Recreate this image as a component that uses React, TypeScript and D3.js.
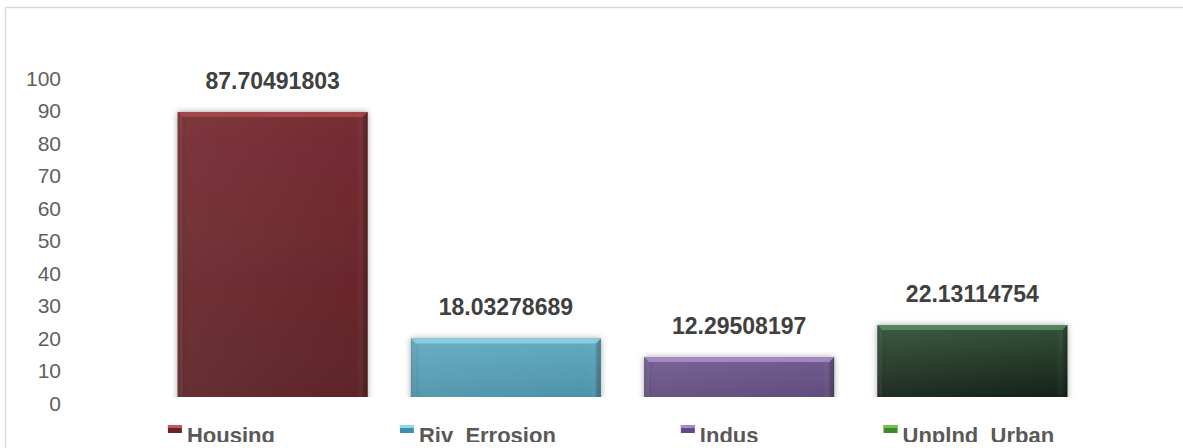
import React, { useEffect, useRef } from "react";
import * as d3 from "d3";

const categories = ["Housing", "Riv_Errosion", "Indus", "Unplnd_Urban"];
const values = [87.70491803, 18.03278689, 12.29508197, 22.13114754];
const valueLabels = ["87.70491803", "18.03278689", "12.29508197", "22.13114754"];
const yTicks = [0, 10, 20, 30, 40, 50, 60, 70, 80, 90, 100];
const barTop = ["#a9484f", "#8fd3e6", "#a890cc", "#5c8e62"];
const barLight = ["#772d32", "#62abc2", "#725c90", "#33523a"];
const barDark = ["#5e2428", "#4a8fa4", "#5d4978", "#121b13"];
const legendMain = ["#6e2227", "#3f8eaa", "#5e4a86", "#3f8a26"];
const legendHi = ["#c0585c", "#8fd6ea", "#a58ad0", "#70c24c"];

export default function App() {
  const ref = useRef<SVGSVGElement>(null);
  useEffect(() => {
    const svg = d3.select(ref.current);
    svg.selectAll("*").remove();
    const font = "'Liberation Sans', Arial, sans-serif";

    const x = d3.scaleBand<string>().domain(categories).range([156, 1089]).paddingInner(0.185).paddingOuter(0.0925);
    const y = d3.scaleLinear().domain([0, 100]).range([397, 72]);

    const defs = svg.append("defs");
    const f = defs.append("filter").attr("id", "shadow").attr("x", "-10%").attr("y", "-10%").attr("width", "120%").attr("height", "120%");
    f.append("feDropShadow").attr("dx", 0).attr("dy", 0).attr("stdDeviation", 3).attr("flood-color", "#000").attr("flood-opacity", 0.35);
    defs.append("clipPath").attr("id", "plotclip").append("rect").attr("x", 0).attr("y", 0).attr("width", 1183).attr("height", 397);
    defs.append("clipPath").attr("id", "legclip").append("rect").attr("x", 0).attr("y", 0).attr("width", 1183).attr("height", 442);
    categories.forEach((c, i) => {
      const g = defs.append("linearGradient").attr("id", "g" + i).attr("x1", 0).attr("y1", 0).attr("x2", 0).attr("y2", 1);
      g.append("stop").attr("offset", "0%").attr("stop-color", barLight[i]);
      g.append("stop").attr("offset", "100%").attr("stop-color", barDark[i]);
      const h = defs.append("linearGradient").attr("id", "h" + i).attr("x1", 0).attr("y1", 0).attr("x2", 1).attr("y2", 0);
      h.append("stop").attr("offset", "0%").attr("stop-color", "#000").attr("stop-opacity", 0.12);
      h.append("stop").attr("offset", "6%").attr("stop-color", "#fff").attr("stop-opacity", 0.05);
      h.append("stop").attr("offset", "94%").attr("stop-color", "#fff").attr("stop-opacity", 0);
      h.append("stop").attr("offset", "100%").attr("stop-color", "#000").attr("stop-opacity", 0.15);
    });

    // border
    svg.append("rect").attr("x", 5.5).attr("y", 7.5).attr("width", 1400).attr("height", 600)
      .attr("fill", "none").attr("stroke", "#d9d9d9").attr("stroke-width", 1.5);

    // y tick labels
    svg.append("g").selectAll("text").data(yTicks).join("text")
      .attr("x", 61).attr("y", (d) => y(d) + 6)
      .attr("text-anchor", "end").attr("dominant-baseline", "central")
      .attr("font-family", font).attr("font-size", 21).attr("fill", "#5f5f5f")
      .text((d) => String(d));

    // bars
    const bars = svg.append("g").attr("clip-path", "url(#plotclip)");
    categories.forEach((c, i) => {
      const bx = x(c)!;
      const bw = x.bandwidth();
      const by = y(values[i]);
      const bh = y(0) - by;
      const g = bars.append("g");
      g.append("rect").attr("x", bx).attr("y", by).attr("width", bw).attr("height", bh + 10)
        .attr("fill", `url(#g${i})`).attr("filter", "url(#shadow)");
      g.append("rect").attr("x", bx).attr("y", by).attr("width", bw).attr("height", bh + 10)
        .attr("fill", `url(#h${i})`);
      const b = 5;
      g.append("path")
        .attr("d", `M${bx},${by}L${bx + bw},${by}L${bx + bw - b},${by + b}L${bx + b},${by + b}Z`)
        .attr("fill", barTop[i]).attr("opacity", 0.85);
      g.append("path")
        .attr("d", `M${bx},${by}L${bx + b},${by + b}L${bx + b},${y(0)}L${bx},${y(0)}Z`)
        .attr("fill", "#fff").attr("opacity", 0.08);
      g.append("path")
        .attr("d", `M${bx + bw},${by}L${bx + bw - b},${by + b}L${bx + bw - b},${y(0)}L${bx + bw},${y(0)}Z`)
        .attr("fill", "#000").attr("opacity", 0.12);
    });

    // value labels
    svg.append("g").selectAll("text").data(categories).join("text")
      .attr("x", (d) => x(d)! + x.bandwidth() / 2)
      .attr("y", (d, i) => y(values[i]) - 31)
      .attr("text-anchor", "middle").attr("dominant-baseline", "central")
      .attr("font-family", font).attr("font-size", 23).attr("font-weight", "bold").attr("fill", "#404040")
      .text((d, i) => valueLabels[i]);

    // legend
    const leg = svg.append("g").attr("clip-path", "url(#legclip)");
    const items = categories.map((c, i) => {
      const g = leg.append("g");
      const t = g.append("text").attr("x", 19).attr("y", 443)
        .attr("font-family", font).attr("font-size", 22).attr("font-weight", "bold").attr("fill", "#595959")
        .text(c);
      g.append("rect").attr("x", 0).attr("y", 425).attr("width", 14).attr("height", 8).attr("fill", legendMain[i]);
      g.append("rect").attr("x", 0).attr("y", 425).attr("width", 14).attr("height", 3).attr("fill", legendHi[i]);
      const w = 19 + (t.node() as SVGTextElement).getComputedTextLength();
      return { g, w };
    });
    const gap = 125;
    const total = d3.sum(items, (d) => d.w) + gap * (items.length - 1);
    let cx = 611 - total / 2;
    items.forEach((it) => {
      it.g.attr("transform", `translate(${cx},0)`);
      cx += it.w + gap;
    });
  }, []);
  return (
    <svg ref={ref} width={1183} height={448} style={{ position: "absolute", left: 0, top: 0, background: "#fff" }} />
  );
}
